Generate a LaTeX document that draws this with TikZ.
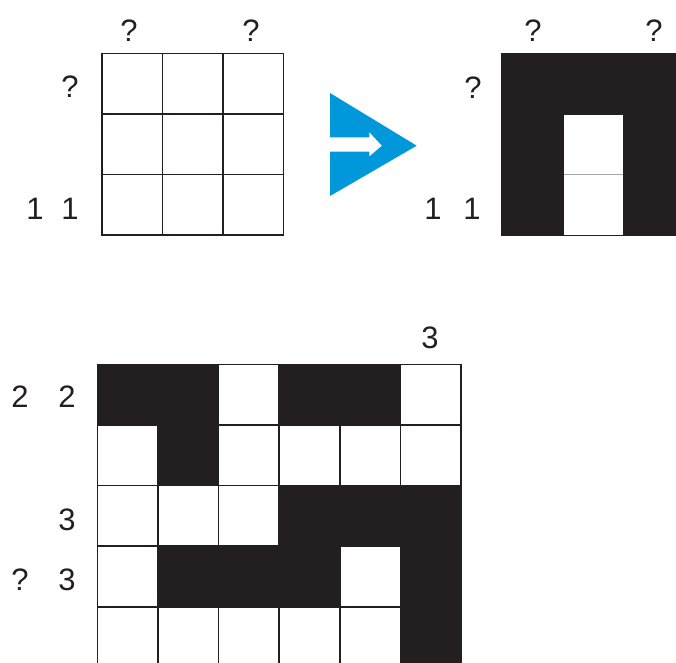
\documentclass[tikz,border=0pt]{standalone}
\usepackage{fontspec}
\setmainfont{Liberation Sans}
\definecolor{ink}{HTML}{231F20}
\definecolor{arrowblue}{HTML}{0098DA}
\begin{document}
\begin{tikzpicture}[x=1pt,y=-1pt,
  cellw/.style={draw=ink,line width=1.6pt,fill=white,minimum size=60.6pt,inner sep=0pt,outer sep=0pt},
  cellb/.style={cellw,fill=ink},
  cellwb/.style={fill=white,minimum size=58pt,inner sep=0pt,outer sep=0pt},
  clue/.style={font=\fontsize{31}{36}\selectfont,text=ink,inner sep=0pt}]
\useasboundingbox (0,0) rectangle (676,662);
\clip (0,0) rectangle (676,662);
% top-left grid (3x3, empty)
\foreach \r in {0,1,2}{
  \foreach \c in {0,1,2}{
    \node[cellw] (a-\r-\c) at ({101.7+30.3+60.6*\c},{53.3+30.3+60.6*\r}) {};
  }
}
\node[clue] (a-t0) at (129,31) {?};
\node[clue] (a-t2) at (251,31) {?};
\node[clue] (a-l0) at (70,87) {?};
\node[clue] (a-l2a) at (35,209) {1};
\node[clue] (a-l2b) at (70,209) {1};
% blue arrow
\fill[arrowblue] (330,93) -- (416.7,145.7) -- (330,196) -- cycle;
\fill[white] (330,137.3) -- (369.3,137.3) -- (369.3,132.3) -- (381.7,145.7)
  -- (369.3,156.3) -- (369.3,151.7) -- (330,151.7) -- cycle;
% top-right grid (solved)
\foreach \r in {0,1,2}{
  \foreach \c in {0,1,2}{
    \node[cellb] (b-\r-\c) at ({501.7+30.3+60.6*\c},{53.3+30.3+60.6*\r}) {};
  }
}
\node[cellwb,minimum width=58.6pt,minimum height=59.5pt] (b-w1) at (593.4,144.6) {};
\node[cellwb,minimum width=58.6pt,minimum height=60.5pt] (b-w2) at (593.4,204.6) {};
\draw[gray!70,line width=0.8pt] (b-w1.south west) -- (b-w1.south east);
\node[clue] (b-t0) at (533,31) {?};
\node[clue] (b-t2) at (654,31) {?};
\node[clue] (b-l0) at (473,88) {?};
\node[clue] (b-l2a) at (433,209) {1};
\node[clue] (b-l2b) at (472,209) {1};
% bottom grid (6 columns x 5 rows)
\foreach \r/\c/\s in {
  0/0/cellb,0/1/cellb,0/2/cellw,0/3/cellb,0/4/cellb,0/5/cellw,
  1/0/cellw,1/1/cellb,1/2/cellw,1/3/cellw,1/4/cellw,1/5/cellw,
  2/0/cellw,2/1/cellw,2/2/cellw,2/3/cellb,2/4/cellb,2/5/cellb,
  3/0/cellw,3/1/cellb,3/2/cellb,3/3/cellb,3/4/cellw,3/5/cellb,
  4/0/cellw,4/1/cellw,4/2/cellw,4/3/cellw,4/4/cellw,4/5/cellb}{
  \node[\s] (c-\r-\c) at ({97.3+30.3+60.6*\c},{364.3+30.3+60.6*\r}) {};
}
\node[clue] (c-t5) at (430,338) {3};
\node[clue] (c-l0a) at (20,397) {2};
\node[clue] (c-l0b) at (67,397) {2};
\node[clue] (c-l2) at (67,520) {3};
\node[clue] (c-l3a) at (20,580) {?};
\node[clue] (c-l3b) at (67,580) {3};
\end{tikzpicture}
\end{document}
